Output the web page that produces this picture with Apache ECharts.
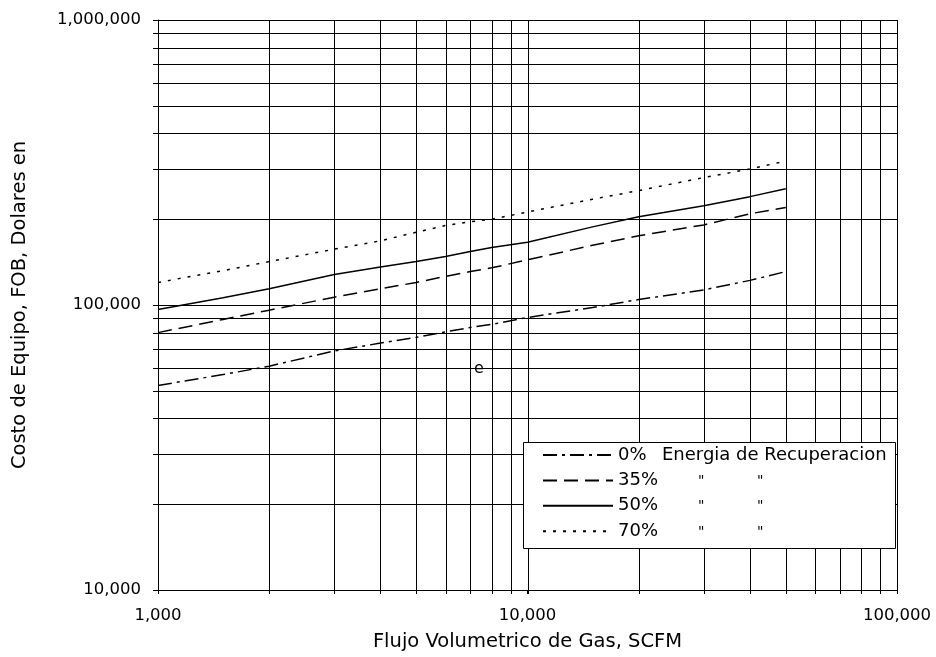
<!DOCTYPE html>
<html>
<head>
<meta charset="utf-8">
<script src="https://cdn.jsdelivr.net/npm/echarts@6/dist/echarts.min.js"></script>
<style>
html,body{margin:0;padding:0;background:#fff;}
#chart{width:936px;height:657px;}
</style>
</head>
<body>
<div id="chart"></div>
<script>
// ---- data ----
var flow = [1000, 1500, 2000, 3000, 4000, 5000, 6000, 7000, 8000, 10000, 15000, 20000, 30000, 40000, 50000];
var cost0  = [52200, 57000, 61000, 69000, 73500, 77000, 80500, 83400, 85500, 90400, 98000, 104500, 113000, 122000, 131000];
var cost35 = [80000, 89000, 95900, 106500, 114000, 120000, 126000, 131000, 135000, 144000, 162000, 175000, 191000, 209000, 220000];
var cost50 = [96400, 106000, 114000, 128000, 136000, 142000, 148000, 154000, 159000, 166000, 188000, 204000, 223000, 240000, 256000];
var cost70 = [120000, 132000, 142000, 157000, 168000, 180000, 190000, 196000, 200000, 212000, 235000, 252000, 280000, 300000, 320000];
var seriesNames = ['0%', '35%', '50%', '70%'];
var xTickLabels = {1000: '1,000', 10000: '10,000', 100000: '100,000'};
var yTickLabels = {10000: '10,000', 100000: '100,000', 1000000: '1,000,000'};
var xGridValues = [1000,2000,3000,4000,5000,6000,7000,8000,9000,10000,20000,30000,40000,50000,60000,70000,80000,90000,100000];
var yGridValues = [10000,20000,30000,40000,50000,60000,70000,80000,90000,100000,200000,300000,400000,500000,600000,700000,800000,900000,1000000];
var xTitle = 'Flujo Volumetrico de Gas, SCFM';
var yTitle = 'Costo de Equipo, FOB, Dolares en';
var legendExtra = 'Energia de Recuperacion';
var dittoMark = '"';
var strayText = 'e';

var X_MIN = 1000, X_MAX = 100000, Y_MIN = 10000, Y_MAX = 1000000;
var FONT = 'DejaVu Sans';

function pairs(xs, ys) { return xs.map(function (x, i) { return [x, ys[i]]; }); }

var chart = echarts.init(document.getElementById('chart'), null, {renderer: 'canvas'});

function vLine(params, api) {
  var v = api.value(0);
  var p1 = api.coord([v, Y_MIN]);
  var p2 = api.coord([v, Y_MAX]);
  var x = Math.round(p1[0]) + 0.5;
  return {type: 'line', shape: {x1: x, y1: Math.round(p1[1]) + 4, x2: x, y2: Math.round(p2[1])},
          style: {stroke: '#000', lineWidth: 1}};
}
function hLine(params, api) {
  var v = api.value(1);
  var p1 = api.coord([X_MIN, v]);
  var p2 = api.coord([X_MAX, v]);
  var y = Math.round(p1[1]) + 0.5;
  return {type: 'line', shape: {x1: Math.round(p1[0]) - 5, y1: y, x2: Math.round(p2[0]), y2: y},
          style: {stroke: '#000', lineWidth: 1}};
}

var lineStyles = [
  {type: [14, 5, 3, 5], width: 1.5},
  {type: [14, 7], width: 1.5},
  {type: 'solid', width: 1.5},
  {type: [3, 7], width: 1.5}
];
var seriesData = [cost0, cost35, cost50, cost70];

var series = [
  {type: 'custom', name: 'vgrid', coordinateSystem: 'cartesian2d', renderItem: vLine,
   data: xGridValues.map(function (v) { return [v, Y_MIN]; }), silent: true, z: 1, clip: false},
  {type: 'custom', name: 'hgrid', coordinateSystem: 'cartesian2d', renderItem: hLine,
   data: yGridValues.map(function (v) { return [X_MIN, v]; }), silent: true, z: 1, clip: false}
];
seriesNames.forEach(function (n, i) {
  series.push({
    type: 'line', name: n, data: pairs(flow, seriesData[i]), symbol: 'none', smooth: false,
    lineStyle: {color: '#000', width: lineStyles[i].width, type: lineStyles[i].type},
    itemStyle: {color: '#000'}, z: 5, animation: false
  });
});

var option = {
  animation: false,
  backgroundColor: '#fff',
  grid: {left: 158, right: 39, top: 20, bottom: 66, containLabel: false},
  xAxis: {
    type: 'log', logBase: 10, min: X_MIN, max: X_MAX,
    name: xTitle, nameLocation: 'middle', nameGap: 42,
    nameTextStyle: {fontFamily: FONT, fontSize: 19.5, color: '#000'},
    axisLine: {show: true, lineStyle: {color: '#000', width: 1}},
    axisTick: {show: true, length: 4, lineStyle: {color: '#000'}},
    axisLabel: {margin: 17, fontFamily: FONT, fontSize: 16.5, color: '#000',
      formatter: function (v) { return xTickLabels[Math.round(v)] || ''; }},
    splitLine: {show: false}, minorTick: {show: false}, minorSplitLine: {show: false}
  },
  yAxis: {
    type: 'log', logBase: 10, min: Y_MIN, max: Y_MAX,
    name: yTitle, nameLocation: 'middle', nameGap: 128,
    nameTextStyle: {fontFamily: FONT, fontSize: 19.5, color: '#000'},
    axisLine: {show: true, lineStyle: {color: '#000', width: 1}},
    axisTick: {show: true, length: 5, lineStyle: {color: '#000'}},
    axisLabel: {margin: 17, fontFamily: FONT, fontSize: 16.5, color: '#000',
      formatter: function (v) { return yTickLabels[Math.round(v)] || ''; }},
    splitLine: {show: false}, minorTick: {show: false}, minorSplitLine: {show: false}
  },
  legend: {
    data: seriesNames, orient: 'vertical', left: 542, top: 446,
    itemWidth: 70, itemHeight: 14, itemGap: 7.4, padding: 0, z: 20,
    itemStyle: {opacity: 0},
    textStyle: {fontFamily: FONT, fontSize: 18, color: '#000'},
    selectedMode: false
  },
  graphic: [
    {type: 'rect', z: 10, shape: {x: 523.5, y: 442.5, width: 372, height: 106},
     style: {fill: '#fff', stroke: '#000', lineWidth: 1}},
    {type: 'text', z: 21, x: 662, y: 455, style: {text: legendExtra, font: '18px "DejaVu Sans"', fill: '#000', verticalAlign: 'middle'}},
    {type: 'text', z: 21, x: 698, y: 481, style: {text: dittoMark, font: '14px "DejaVu Sans"', fill: '#000', verticalAlign: 'middle'}},
    {type: 'text', z: 21, x: 757, y: 481, style: {text: dittoMark, font: '14px "DejaVu Sans"', fill: '#000', verticalAlign: 'middle'}},
    {type: 'text', z: 21, x: 698, y: 506, style: {text: dittoMark, font: '14px "DejaVu Sans"', fill: '#000', verticalAlign: 'middle'}},
    {type: 'text', z: 21, x: 757, y: 506, style: {text: dittoMark, font: '14px "DejaVu Sans"', fill: '#000', verticalAlign: 'middle'}},
    {type: 'text', z: 21, x: 698, y: 532, style: {text: dittoMark, font: '14px "DejaVu Sans"', fill: '#000', verticalAlign: 'middle'}},
    {type: 'text', z: 21, x: 757, y: 532, style: {text: dittoMark, font: '14px "DejaVu Sans"', fill: '#000', verticalAlign: 'middle'}},
    {type: 'text', z: 21, x: 479, y: 369, style: {text: strayText, font: '16px "DejaVu Sans"', fill: '#000', align: 'center', verticalAlign: 'middle'}}
  ],
  series: series
};
chart.setOption(option);
</script>
</body>
</html>
